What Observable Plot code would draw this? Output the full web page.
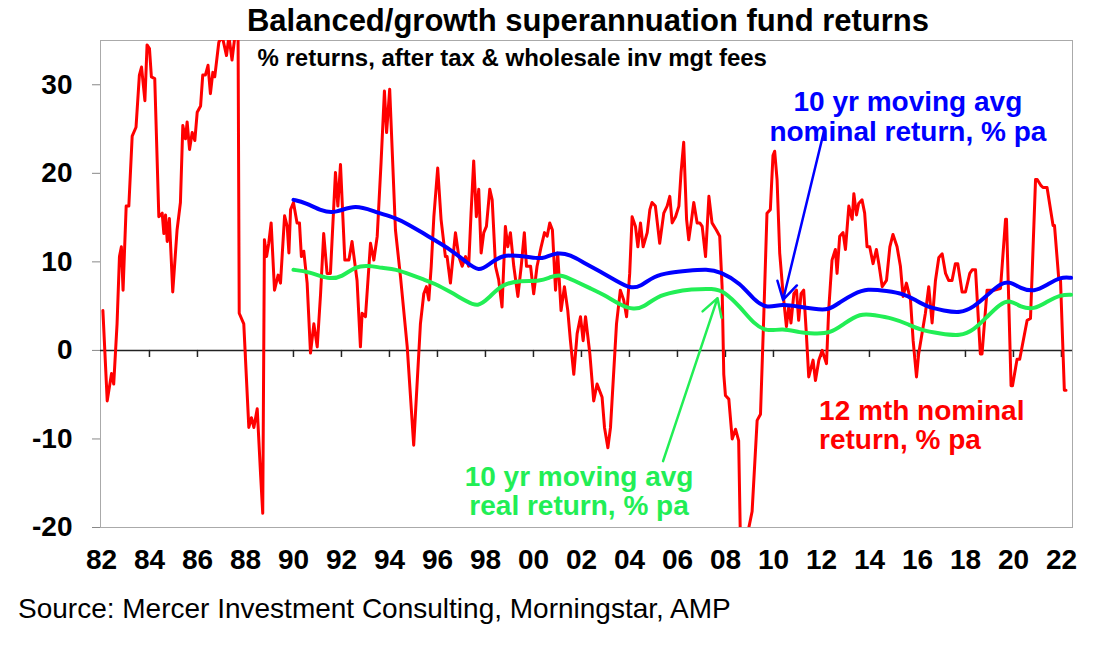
<!DOCTYPE html>
<html><head><meta charset="utf-8">
<script src="https://cdn.jsdelivr.net/npm/d3@7"></script>
<script src="https://cdn.jsdelivr.net/npm/@observablehq/plot@0.6"></script>
<style>
body{margin:0;background:#fff;font-family:Arial,"Liberation Sans",sans-serif;}
#wrap{position:relative;width:1106px;height:646px;}
#title{position:absolute;left:0;width:1176px;top:3px;text-align:center;font-weight:bold;font-size:31px;}
#source{position:absolute;left:18px;top:593px;font-size:28px;}
</style></head><body>
<div id="wrap"><div id="chart"></div>
<div id="title">Balanced/growth superannuation fund returns</div>
<div id="source">Source: Mercer Investment Consulting, Morningstar, AMP</div></div>
<script>
const redYears=[1982.06,1982.24,1982.42,1982.51,1982.65,1982.75,1982.83,1982.9,1983.03,1983.14,1983.28,1983.44,1983.58,1983.67,1983.81,1983.9,1984.0,1984.08,1984.22,1984.39,1984.53,1984.6,1984.67,1984.74,1984.83,1984.97,1985.15,1985.29,1985.39,1985.5,1985.57,1985.67,1985.78,1985.89,1985.99,1986.13,1986.22,1986.33,1986.44,1986.54,1986.64,1986.72,1986.89,1987.03,1987.21,1987.31,1987.44,1987.56,1987.69,1987.74,1987.93,1988.14,1988.25,1988.35,1988.49,1988.63,1988.72,1988.79,1988.88,1988.97,1989.07,1989.21,1989.36,1989.46,1989.63,1989.74,1989.81,1989.88,1990.0,1990.15,1990.25,1990.33,1990.43,1990.57,1990.71,1990.85,1990.99,1991.13,1991.26,1991.4,1991.54,1991.75,1991.85,1991.96,1992.14,1992.31,1992.44,1992.65,1992.79,1992.86,1993.0,1993.21,1993.35,1993.49,1993.65,1993.79,1993.88,1994.01,1994.25,1994.46,1994.74,1995.01,1995.29,1995.43,1995.54,1995.64,1995.74,1995.85,1996.01,1996.15,1996.33,1996.4,1996.54,1996.75,1996.89,1997.03,1997.17,1997.3,1997.4,1997.51,1997.62,1997.72,1997.82,1997.93,1998.04,1998.18,1998.28,1998.42,1998.55,1998.69,1998.83,1998.93,1999.04,1999.18,1999.35,1999.49,1999.62,1999.71,1999.88,2000.01,2000.15,2000.32,2000.46,2000.57,2000.68,2000.79,2000.92,2001.01,2001.15,2001.29,2001.43,2001.54,2001.68,2001.82,2001.96,2002.07,2002.17,2002.35,2002.51,2002.65,2002.86,2002.96,2003.1,2003.21,2003.46,2003.62,2003.76,2003.88,2004.01,2004.11,2004.25,2004.35,2004.46,2004.57,2004.74,2004.85,2004.94,2005.08,2005.26,2005.43,2005.57,2005.68,2005.78,2005.92,2006.06,2006.15,2006.26,2006.38,2006.47,2006.57,2006.68,2006.82,2006.93,2007.03,2007.17,2007.31,2007.44,2007.62,2007.76,2007.86,2007.93,2008.0,2008.14,2008.28,2008.42,2008.55,2008.62,2008.73,2008.9,2009.11,2009.32,2009.46,2009.6,2009.73,2009.87,2009.98,2010.05,2010.15,2010.26,2010.4,2010.54,2010.64,2010.73,2010.85,2010.96,2011.05,2011.15,2011.26,2011.37,2011.47,2011.65,2011.75,2011.89,2012.03,2012.21,2012.3,2012.44,2012.58,2012.65,2012.76,2012.9,2013.0,2013.14,2013.28,2013.35,2013.46,2013.55,2013.69,2013.8,2013.9,2014.01,2014.15,2014.29,2014.39,2014.53,2014.71,2014.85,2014.98,2015.15,2015.29,2015.4,2015.54,2015.71,2015.82,2015.96,2016.05,2016.19,2016.33,2016.47,2016.61,2016.75,2016.89,2017.03,2017.17,2017.3,2017.44,2017.58,2017.68,2017.86,2018.0,2018.18,2018.28,2018.42,2018.62,2018.69,2018.9,2019.01,2019.18,2019.46,2019.67,2019.71,2019.9,2019.96,2020.15,2020.26,2020.57,2020.71,2020.92,2020.99,2021.15,2021.23,2021.4,2021.65,2021.71,2021.89,2021.96,2022.12,2022.19,2022.4];
const redValues=[4.5,-5.7,-2.6,-3.8,3.0,10.6,11.7,6.8,16.3,16.3,24.2,25.2,31.1,32.0,28.2,34.5,34.1,30.9,30.7,15.1,15.5,13.2,15.3,12.3,14.9,6.6,13.6,16.7,25.4,23.9,25.8,22.7,24.6,23.7,26.9,27.6,31.1,31.1,32.2,29.0,31.4,30.9,34.8,35.5,33.3,35.5,32.8,35.5,37,4.2,3.0,-8.7,-7.6,-8.7,-6.6,-14.0,-18.4,12.5,10.6,12.1,14.4,6.8,8.5,7.6,15.2,14.0,11.0,15.9,16.7,14.4,14.4,10.6,11.2,7.6,-0.3,3.0,0.4,6.4,13.2,8.7,8.7,20.1,16.3,21.0,10.2,10.2,12.3,7.9,0.4,4.2,3.8,12.1,10.2,12.9,21.2,29.3,24.6,29.5,13.6,8.3,0.4,-10.7,3.0,6.4,7.2,5.7,9.5,15.1,20.6,14.8,10.6,10.6,7.6,13.3,10.6,9.5,10.6,9.5,15.5,21.4,15.1,18.2,11.0,13.3,14.0,18.2,17.0,9.5,8.0,4.9,14.0,11.7,13.3,9.5,6.1,9.5,13.3,9.5,9.5,6.4,9.5,11.7,13.3,12.9,14.4,13.6,6.8,11.0,4.5,7.2,4.5,1.1,-2.7,1.9,3.8,1.1,3.8,-0.4,-5.7,-3.8,-5.3,-8.7,-11.0,-8.7,3.0,6.8,5.7,3.8,8.7,15.1,14.0,11.7,14.4,11.7,13.3,15.9,16.7,16.3,12.1,15.5,16.3,17.4,14.4,15.1,16.3,20.1,23.5,14.8,12.5,14.4,16.7,14.4,14.4,14.0,10.6,17.4,14.4,13.6,12.9,7.2,-2.7,-5.1,-5.5,-10.0,-8.9,-10.2,-21,-22,-21,-18.2,-7.9,-7.2,4.2,15.5,15.9,22.0,22.5,19.3,11.0,6.4,2.7,5.0,3.1,6.4,6.8,3.4,6.4,6.8,1.9,-3.0,-1.1,-3.4,-1.1,0,-1.5,4.5,10.2,11.4,8.7,12.9,13.3,11.4,16.3,14.8,17.7,15.3,16.6,17.0,15.5,11.7,11.7,9.8,11.4,9.8,7.2,7.9,11.7,13.1,11.7,9.5,6.1,7.6,5.7,1.1,-3.0,-0.4,1.9,4.2,7.2,3.1,7.9,10.5,10.9,8.7,7.9,7.9,9.8,9.8,6.6,6.6,8.7,9.1,9.1,-0.4,-0.4,6.8,6.8,6.8,7.0,14.8,14.8,-4.0,-4.0,-1.0,-1.0,3.4,3.6,19.3,19.3,18.6,18.4,18.4,14.1,14.1,8.0,8.0,-4.5,-4.5];
const blueYears=[1990.0,1990.5,1991.19,1991.75,1992.58,1993.42,1994.25,1994.8,1995.43,1995.85,1996.54,1997.24,1997.72,1998.14,1998.69,1999.46,2000.15,2000.43,2000.99,2001.54,2002.1,2002.79,2003.49,2004.04,2004.46,2005.01,2005.71,2006.4,2007.24,2007.79,2008.62,2009.18,2009.73,2010.36,2011.12,2011.68,2012.3,2012.79,2013.35,2013.9,2014.73,2015.43,2015.91,2016.4,2017.1,2017.79,2018.35,2018.9,2019.46,2019.87,2020.29,2020.85,2021.4,2021.96,2022.4];
const blueValues=[17.0,16.7,15.7,15.5,16.5,15.6,15.0,14.2,13.2,12.5,11.4,9.9,8.9,9.7,10.8,10.7,10.4,10.4,11.1,10.8,9.9,8.9,7.8,7.0,7.2,8.4,8.8,9.0,9.2,8.9,7.6,5.7,4.7,5.3,4.9,4.7,4.5,5.5,6.4,7.0,6.7,6.4,5.7,4.9,4.5,4.2,4.9,6.2,7.6,7.8,7.0,6.6,7.4,8.3,8.2];
const greenYears=[1990.0,1990.64,1991.47,1992.03,1992.58,1993.14,1993.69,1994.25,1994.94,1995.43,1995.85,1996.54,1997.24,1997.68,1998.14,1998.69,1999.46,2000.29,2000.71,2001.12,2001.68,2002.37,2003.07,2003.63,2004.18,2004.6,2005.15,2005.85,2006.54,2007.51,2007.93,2008.62,2009.18,2009.73,2010.36,2011.12,2011.68,2012.37,2012.93,2013.62,2014.18,2015.01,2015.57,2016.12,2016.96,2017.79,2018.35,2018.9,2019.46,2019.87,2020.29,2020.85,2021.4,2021.96,2022.4];
const greenValues=[9.1,8.9,8.0,8.3,9.5,9.6,9.3,9.2,8.5,8.0,7.6,6.6,5.5,4.9,5.9,7.5,7.9,7.8,8.3,8.6,7.9,7.0,6.1,5.1,4.6,4.9,6.1,6.6,6.9,7.0,6.7,4.9,3.0,2.1,2.5,2.0,1.9,1.9,3.0,4.2,4.0,3.6,3.0,2.3,1.9,1.6,2.3,3.8,5.3,5.7,4.9,4.6,5.5,6.3,6.3];
const xTickYears=d3.range(1982,2023,2);
const yTicks=[-20,-10,0,10,20,30];

const red=redYears.map((x,i)=>({x,y:redValues[i]}));
const blue=blueYears.map((x,i)=>({x,y:blueValues[i]}));
const green=greenYears.map((x,i)=>({x,y:greenValues[i]}));
const RED="#ff0000",BLUE="#0000ff",GREEN="#22ee55";
const bold={fontWeight:"bold",fontSize:28,fontFamily:"Arial"};

const chart=Plot.plot({
  width:1106,height:646,marginLeft:100,marginRight:34,marginTop:40,marginBottom:119,
  style:{fontFamily:"Arial",background:"white"},
  x:{domain:[1981.96,2022.46]},
  y:{domain:[-20,35]},
  marks:[
    Plot.frame({stroke:"#aaa"}),
    Plot.axisY({ticks:yTicks,tickSize:8,stroke:"#888",tickPadding:20,fontSize:28,fontWeight:"bold",label:null,tickFormat:d=>d}),
    Plot.axisX({ticks:xTickYears,tickSize:0,tickPadding:22,fontSize:28,fontWeight:"bold",label:null,tickFormat:d=>String(d%100).padStart(2,"0")}),
    Plot.ruleY([0],{stroke:"#222",strokeWidth:1.5}),
    Plot.ruleX(xTickYears.slice(1),{y1:0,y2:-0.8,stroke:"#222",strokeWidth:1.5}),
    Plot.line(red,{x:"x",y:"y",stroke:RED,strokeWidth:3,clip:true}),
    Plot.line(blue,{x:"x",y:"y",stroke:BLUE,strokeWidth:4,curve:"basis"}),
    Plot.line(green,{x:"x",y:"y",stroke:GREEN,strokeWidth:4,curve:"basis"}),
    Plot.arrow([{x1:2012.1,y1:24.7,x2:2010.4,y2:5.7}],{x1:"x1",y1:"y1",x2:"x2",y2:"y2",stroke:BLUE,strokeWidth:2.5,headLength:12}),
    Plot.arrow([{x1:2005.4,y1:-12.5,x2:2007.67,y2:5.9}],{x1:"x1",y1:"y1",x2:"x2",y2:"y2",stroke:GREEN,strokeWidth:2.5,headLength:12}),
    Plot.text(["% returns, after tax & wholesale inv mgt fees"],{x:1988.5,y:32.95,textAnchor:"start",fontWeight:"bold",fontSize:24,fill:"black"}),
    Plot.text(["10 yr moving avg\nnominal return, % pa"],{x:2015.6,y:26.4,lineHeight:1.05,fill:BLUE,...bold}),
    Plot.text(["10 yr moving avg\nreal return, % pa"],{x:2001.9,y:-15.9,lineHeight:1.05,fill:GREEN,...bold}),
    Plot.text(["12 mth nominal\nreturn, % pa"],{x:2011.9,y:-8.4,lineHeight:1.05,textAnchor:"start",fill:RED,...bold})
  ]
});
document.getElementById("chart").appendChild(chart);
</script></body></html>
